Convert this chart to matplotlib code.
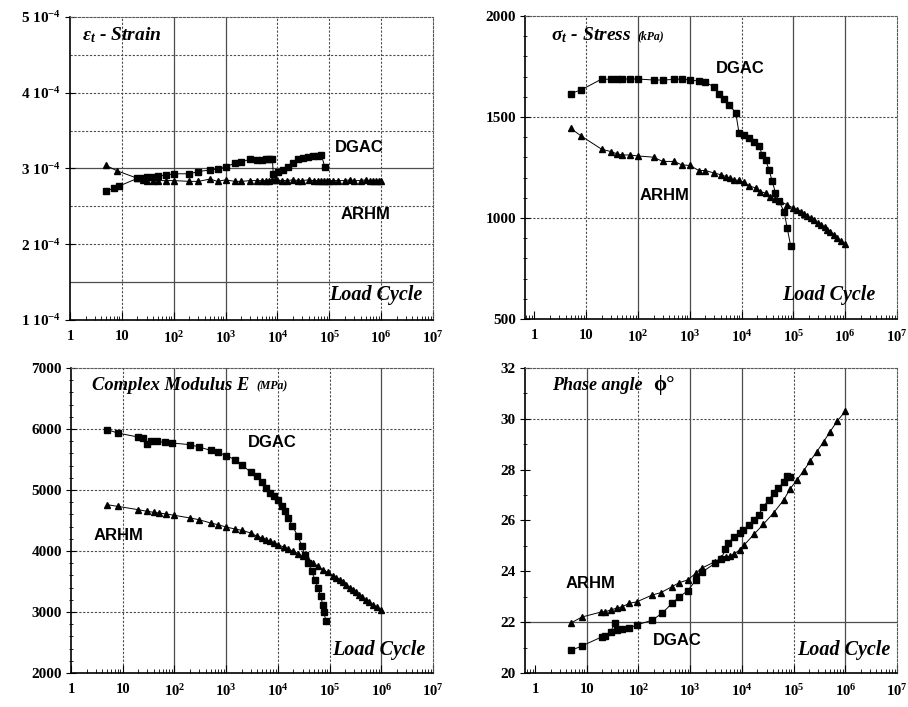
import matplotlib
matplotlib.use("Agg")
import matplotlib.pyplot as plt
from matplotlib.ticker import LogLocator, MultipleLocator, NullFormatter

plt.rcParams["font.family"] = "Liberation Serif"
plt.rcParams["mathtext.default"] = "regular"

x_tick_labels = ["1", "10", "10$^2$", "10$^3$", "10$^4$", "10$^5$", "10$^6$", "10$^7$"]

# strain (x 1e-4)
dgac_strain_n = [5, 7, 9, 20, 25, 30, 40, 50, 70, 100, 200, 300, 500, 700, 1000, 1500, 2000,
                 3000, 4000, 5000, 6000, 7000, 8000, 8300, 10200, 12900, 16000, 20000, 25000,
                 31600, 39000, 49000, 61000, 70000, 82000]
dgac_strain = [2.70, 2.74, 2.77, 2.87, 2.88, 2.89, 2.89, 2.90, 2.91, 2.93, 2.93, 2.96, 2.98, 2.99,
               3.02, 3.07, 3.09, 3.12, 3.11, 3.11, 3.12, 3.12, 3.12, 2.93, 2.95, 2.98, 3.02, 3.07,
               3.12, 3.14, 3.15, 3.16, 3.17, 3.18, 3.02]
arhm_strain_n = [5, 8, 20, 25, 30, 40, 50, 70, 100, 200, 300, 500, 700, 1000, 1500, 2000, 3000,
                 4000, 5000, 6000, 7000, 8000, 9000, 10000, 12000, 15000, 20000, 25000, 30000,
                 40000, 50000, 60000, 70000, 80000, 90000, 100000, 120000, 150000, 200000,
                 250000, 300000, 400000, 500000, 600000, 700000, 800000, 900000, 1000000]
arhm_strain = [3.04, 2.97, 2.87, 2.85, 2.84, 2.84, 2.84, 2.84, 2.84, 2.83, 2.83, 2.86, 2.83, 2.85,
               2.83, 2.83, 2.84, 2.84, 2.84, 2.84, 2.84, 2.85, 2.85, 2.85, 2.84, 2.84, 2.85, 2.84,
               2.84, 2.85, 2.84, 2.84, 2.84, 2.84, 2.84, 2.84, 2.84, 2.84, 2.84, 2.85, 2.84, 2.84,
               2.85, 2.84, 2.84, 2.84, 2.84, 2.84]
strain_labels = ["1 10$^{-4}$", "2 10$^{-4}$", "3 10$^{-4}$", "4 10$^{-4}$", "5 10$^{-4}$"]

# stress (kPa)
dgac_stress_n = [5, 8, 20, 30, 40, 50, 70, 100, 200, 300, 500, 700, 1000, 1500, 2000, 3000, 3700,
                 4600, 5700, 7700, 8900, 11000, 14000, 17000, 22000, 25000, 29000, 34000, 39000,
                 45000, 53000, 66000, 76000, 89000]
dgac_stress = [1616, 1634, 1688, 1686, 1688, 1688, 1688, 1688, 1683, 1683, 1686, 1688, 1683, 1678,
               1673, 1647, 1612, 1587, 1560, 1522, 1423, 1411, 1395, 1378, 1354, 1313, 1288, 1238,
               1181, 1126, 1082, 1032, 950, 859]
arhm_stress_n = [5, 8, 20, 30, 40, 50, 70, 100, 200, 300, 500, 700, 1000, 1500, 2000, 3000, 4000,
                 5000, 6000, 7000, 9000, 11000, 14000, 19000, 23000, 29000, 36000, 45000, 56000,
                 76000, 100000, 120000, 140000, 160000, 180000, 220000, 250000, 300000, 340000,
                 400000, 450000, 520000, 600000, 700000, 820000, 1000000]
arhm_stress = [1444, 1406, 1340, 1329, 1317, 1312, 1312, 1307, 1301, 1280, 1280, 1263, 1260, 1235,
               1235, 1222, 1214, 1205, 1197, 1189, 1186, 1176, 1159, 1148, 1131, 1123, 1106, 1093,
               1082, 1065, 1049, 1040, 1032, 1020, 1011, 998, 991, 975, 966, 955, 942, 930, 917,
               900, 884, 872]

# complex modulus (MPa)
dgac_mod_n = [5, 8, 20, 25, 30, 35, 45, 65, 90, 200, 300, 500, 700, 1000, 1500, 2000, 3000, 4000,
              5000, 6000, 7000, 8500, 10000, 12000, 14000, 16000, 19000, 24000, 29000, 33000,
              39000, 45000, 52000, 60000, 67000, 74000, 78000, 85000]
dgac_mod = [5989, 5934, 5868, 5852, 5759, 5808, 5797, 5781, 5770, 5743, 5705, 5650, 5617, 5563,
            5497, 5415, 5289, 5224, 5125, 5033, 4951, 4896, 4830, 4732, 4650, 4541, 4415, 4251,
            4087, 3940, 3803, 3667, 3530, 3393, 3257, 3120, 2994, 2847]
arhm_mod_n = [5, 8, 20, 30, 40, 50, 70, 100, 200, 300, 500, 700, 1000, 1500, 2000, 3000, 4000,
              5000, 6000, 7000, 8500, 10000, 13000, 16000, 20000, 25000, 31000, 39000, 48000,
              60000, 74000, 92000, 116000, 135000, 160000, 185000, 210000, 245000, 280000,
              320000, 370000, 430000, 500000, 590000, 690000, 820000, 1000000]
arhm_mod = [4759, 4732, 4677, 4650, 4634, 4623, 4606, 4585, 4541, 4513, 4459, 4431, 4393, 4360,
            4339, 4295, 4240, 4213, 4186, 4158, 4131, 4104, 4065, 4033, 3994, 3956, 3912, 3858,
            3803, 3748, 3694, 3650, 3595, 3562, 3530, 3490, 3448, 3400, 3355, 3320, 3284, 3245,
            3202, 3160, 3120, 3080, 3040]

# phase angle (deg)
dgac_phase_n = [5, 8, 20, 23, 29, 35, 39, 49, 66, 93, 185, 290, 450, 610, 890, 1300, 1700, 3000,
                3900, 4800, 5500, 6900, 9000, 10700, 13500, 17000, 21000, 26000, 33000, 41000,
                51000, 64000, 74000, 85000]
dgac_phase = [20.89, 21.06, 21.43, 21.46, 21.62, 21.98, 21.69, 21.73, 21.77, 21.89, 22.08, 22.36,
              22.75, 22.99, 23.23, 23.66, 23.97, 24.31, 24.47, 24.86, 25.10, 25.36, 25.49, 25.62,
              25.82, 26.02, 26.22, 26.54, 26.81, 27.07, 27.27, 27.53, 27.75, 27.70]
arhm_phase_n = [5, 8, 19, 23, 29, 39, 49, 66, 93, 185, 270, 450, 610, 890, 1300, 1700, 3000, 4000,
                5000, 6000, 7000, 9000, 11000, 17000, 26000, 41000, 64000, 86000, 116000, 156000,
                210000, 280000, 380000, 510000, 690000, 1000000]
arhm_phase = [21.97, 22.20, 22.40, 22.41, 22.48, 22.56, 22.61, 22.74, 22.80, 23.07, 23.16, 23.40,
              23.55, 23.66, 23.93, 24.13, 24.38, 24.51, 24.57, 24.60, 24.68, 24.84, 25.03, 25.45,
              25.85, 26.30, 26.80, 27.25, 27.60, 27.95, 28.35, 28.70, 29.10, 29.50, 29.90, 30.30]

GRID = "0.3"


def setup_axis(ax, ylim, major, minor, xmin, solid_dec, hlines, hsolid):
    ax.set_xscale("log")
    ax.set_xlim(xmin, 1e7)
    ax.set_ylim(*ylim)
    ax.set_xticks([10 ** k for k in range(8)])
    ax.set_xticklabels(x_tick_labels, fontweight="bold", fontsize=10.5)
    ax.xaxis.set_minor_locator(LogLocator(base=10, subs=range(2, 10), numticks=20))
    ax.xaxis.set_minor_formatter(NullFormatter())
    ax.tick_params(axis="x", which="major", direction="in", length=6, width=0.8, pad=7)
    ax.tick_params(axis="x", which="minor", direction="in", length=3, width=0.6)
    ax.yaxis.set_major_locator(MultipleLocator(major))
    ax.yaxis.set_minor_locator(MultipleLocator(minor))
    ax.tick_params(axis="y", which="major", direction="inout", length=7, width=0.8, pad=3)
    ax.tick_params(axis="y", which="minor", direction="inout", length=3, width=0.6)
    for lab in ax.get_yticklabels():
        lab.set_fontweight("bold")
        lab.set_fontsize(11)
    for k in range(1, 7):
        if k in solid_dec:
            ax.axvline(10 ** k, color=GRID, lw=0.9, zorder=1)
        else:
            ax.axvline(10 ** k, color=GRID, lw=0.8, ls=(0, (2, 1.5)), zorder=1)
    for v in hlines:
        if v in hsolid:
            ax.axhline(v, color=GRID, lw=0.9, zorder=1)
        else:
            ax.axhline(v, color=GRID, lw=0.8, ls=(0, (2, 1.5)), zorder=1)
    for s in ["left", "bottom"]:
        ax.spines[s].set_linewidth(1.2)
    for s in ["top", "right"]:
        ax.spines[s].set_linewidth(0.8)
        ax.spines[s].set_linestyle((0, (2, 1.5)))
        ax.spines[s].set_color("0.35")


def plot_series(ax, n_sq, v_sq, n_tr, v_tr):
    ax.plot(n_sq, v_sq, color="black", lw=0.7, marker="s", ms=4.5, zorder=3)
    ax.plot(n_tr, v_tr, color="black", lw=0.7, marker="^", ms=5, zorder=3)


def add_label(ax, x, y, s, **kw):
    ax.text(x, y, s, transform=ax.transAxes, va="center", **kw)


def main():
    fig = plt.figure(figsize=(9.08, 7.07), dpi=100)
    ax1 = fig.add_axes([0.0771, 0.5474, 0.3998, 0.4286])
    ax2 = fig.add_axes([0.5782, 0.5488, 0.4097, 0.4286])
    ax3 = fig.add_axes([0.0782, 0.0481, 0.3987, 0.4314])
    ax4 = fig.add_axes([0.5782, 0.0481, 0.4097, 0.4314])

    serif_title = dict(fontstyle="italic", fontweight="bold", fontsize=14)
    sans_lab = dict(family="Liberation Sans", fontweight="bold", fontsize=12)
    load = dict(fontstyle="italic", fontweight="bold", fontsize=14.5, ha="right")
    small = dict(fontstyle="italic", fontweight="bold", fontsize=8.5)

    # strain
    setup_axis(ax1, (1, 5), 1, 0.5, 1, {2, 3}, [1.5, 2, 2.5, 3, 3.5, 4, 4.5], [1.5, 3])
    ax1.set_yticks([1, 2, 3, 4, 5])
    ax1.set_yticklabels(strain_labels, fontweight="bold", fontsize=11)
    ax1.tick_params(axis="y", which="minor", length=0)
    plot_series(ax1, dgac_strain_n, dgac_strain, arhm_strain_n, arhm_strain)
    add_label(ax1, 0.033, 0.94, "ε$_t$ - Strain", **serif_title)
    add_label(ax1, 0.73, 0.568, "DGAC", **sans_lab)
    add_label(ax1, 0.744, 0.347, "ARHM", **sans_lab)
    add_label(ax1, 0.972, 0.083, "Load Cycle", **load)

    # stress
    setup_axis(ax2, (500, 2000), 500, 100, 0.66, {2, 3, 5, 6}, [1000, 1500], [])
    plot_series(ax2, dgac_stress_n, dgac_stress, arhm_stress_n, arhm_stress)
    add_label(ax2, 0.07, 0.937, "σ$_t$ - Stress", **serif_title)
    add_label(ax2, 0.303, 0.932, "(kPa)", **small)
    add_label(ax2, 0.513, 0.828, "DGAC", **sans_lab)
    add_label(ax2, 0.309, 0.409, "ARHM", **sans_lab)
    add_label(ax2, 0.941, 0.079, "Load Cycle", **load)

    # complex modulus
    setup_axis(ax3, (2000, 7000), 1000, 200, 1, {2, 3, 6}, [3000, 4000, 5000, 6000], [])
    plot_series(ax3, dgac_mod_n, dgac_mod, arhm_mod_n, arhm_mod)
    add_label(ax3, 0.058, 0.944, "Complex Modulus E", fontstyle="italic", fontweight="bold",
              fontsize=13.3)
    add_label(ax3, 0.513, 0.94, "(MPa)", **small)
    add_label(ax3, 0.489, 0.757, "DGAC", **sans_lab)
    add_label(ax3, 0.061, 0.452, "ARHM", **sans_lab)
    add_label(ax3, 0.978, 0.075, "Load Cycle", **load)

    # phase angle
    setup_axis(ax4, (20, 32), 2, 1, 0.64, {1, 3, 4, 6}, [22, 30], [22])
    plot_series(ax4, dgac_phase_n, dgac_phase, arhm_phase_n, arhm_phase)
    add_label(ax4, 0.073, 0.944, "Phase angle", fontstyle="italic", fontweight="bold", fontsize=13)
    add_label(ax4, 0.345, 0.944, "ϕ°", fontweight="bold", fontsize=15)
    add_label(ax4, 0.110, 0.295, "ARHM", **sans_lab)
    add_label(ax4, 0.344, 0.105, "DGAC", **sans_lab)
    add_label(ax4, 0.981, 0.075, "Load Cycle", **load)

    fig.savefig("out.png", dpi=100)
    plt.close(fig)


if __name__ == "__main__":
    main()
